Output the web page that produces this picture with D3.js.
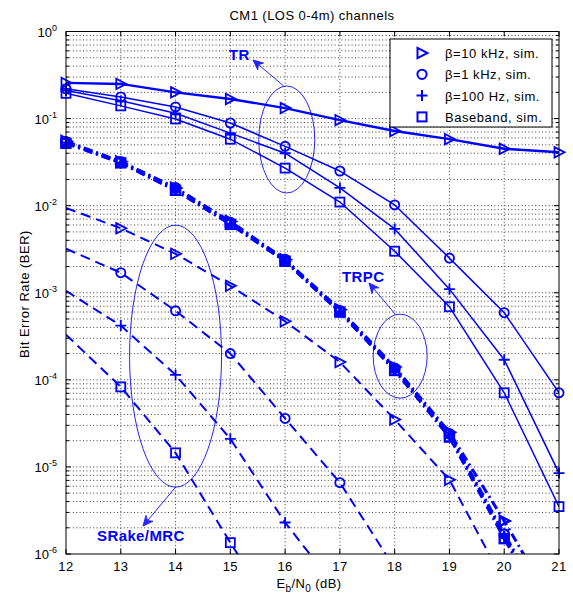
<!DOCTYPE html>
<html><head><meta charset="utf-8">
<script src="https://cdn.jsdelivr.net/npm/d3@7"></script>
<style>body{margin:0;background:#fff}svg{display:block;font-family:"Liberation Sans",Arial,sans-serif}</style>
</head><body><svg id="c" width="573" height="598"></svg>
<script>
// ---------- data ----------
const ebn0 = [12, 13, 14, 15, 16, 17, 18, 19, 20, 21];
const seriesNames = ["β=10 kHz, sim.", "β=1 kHz, sim.", "β=100 Hz, sim.", "Baseband, sim."];
const markerTypes = ["tri", "circle", "plus", "square"];
// TR (solid)
const tr10k  = [0.257, 0.25, 0.20, 0.168, 0.132, 0.096, 0.072, 0.058, 0.045, 0.041];
const tr1k   = [0.22, 0.177, 0.136, 0.089, 0.048, 0.025, 0.0102, 0.0025, 0.00059, 7.1e-5];
const tr100  = [0.21, 0.16, 0.115, 0.068, 0.040, 0.016, 0.0054, 0.0011, 0.00017, 8.5e-6];
const trBase = [0.195, 0.14, 0.099, 0.058, 0.027, 0.011, 0.0030, 0.00069, 7.1e-5, 3.5e-6];
// TRPC (dash-dot)
const trpc10k  = [0.055, 0.032, 0.016, 0.0066, 0.0024, 0.00064, 0.000140, 2.5e-5, 2.4e-6, 2.0e-7];
const trpc1k   = [0.054, 0.032, 0.016, 0.0064, 0.0024, 0.00062, 0.000136, 2.4e-5, 1.7e-6, 1.4e-7];
const trpc100  = [0.053, 0.031, 0.015, 0.0062, 0.0023, 0.00060, 0.000132, 2.3e-5, 1.6e-6, 1.3e-7];
const trpcBase = [0.052, 0.031, 0.015, 0.0061, 0.0023, 0.00060, 0.000128, 2.2e-5, 1.5e-6, 1.2e-7];
// SRake/MRC (dashed); first value is where the curve enters the axes at 12 dB (no marker there)
const sr10k  = [0.0094, 0.0055, 0.0028, 0.0012, 0.00047, 0.00016, 3.5e-5, 7.1e-6, 4.7e-7, null];
const sr1k   = [0.0032, 0.0017, 0.00062, 0.00020, 3.6e-5, 6.6e-6, 6.9e-7, null, null, null];
const sr100  = [0.00105, 0.00042, 0.000114, 2.1e-5, 2.3e-6, 3.6e-7, null, null, null, null];
const srBase = [0.00033, 8.3e-5, 1.45e-5, 1.35e-6, 1.4e-7, null, null, null, null, null];

const xTicks = [12, 13, 14, 15, 16, 17, 18, 19, 20, 21];
const yTickExps = [0, -1, -2, -3, -4, -5, -6];

// ---------- layout ----------
const svg = d3.select("#c");
const L = 66, R = 559, T = 31.5, B = 554;
const blue = "#0000ff";
const x = d3.scaleLinear().domain([12, 21]).range([L, R]);
const y = d3.scaleLog().domain([1e-6, 1]).range([B, T]);

svg.append("defs").append("clipPath").attr("id", "pc")
  .append("rect").attr("x", L).attr("y", T).attr("width", R - L).attr("height", B - T);

// grid
const grid = svg.append("g").attr("stroke", "#111").attr("stroke-width", 1)
  .attr("stroke-dasharray", "1,2.4").attr("opacity", 0.8);
xTicks.slice(1, -1).forEach(t => grid.append("line")
  .attr("x1", x(t)).attr("x2", x(t)).attr("y1", T).attr("y2", B));
const yMinor = [];
for (let e = -6; e < 0; e++) for (let m = 1; m <= 9; m++) yMinor.push({v: m * Math.pow(10, e), major: m === 1});
yMinor.forEach(d => { if (d.v > 1e-6) grid.append("line")
  .attr("x1", L).attr("x2", R).attr("y1", y(d.v)).attr("y2", y(d.v)); });

// ticks (inside)
const tk = svg.append("g").attr("stroke", "#000").attr("stroke-width", 1);
xTicks.forEach(t => {
  tk.append("line").attr("x1", x(t)).attr("x2", x(t)).attr("y1", B).attr("y2", B - 5);
  tk.append("line").attr("x1", x(t)).attr("x2", x(t)).attr("y1", T).attr("y2", T + 5);
});
yMinor.concat([{v: 1, major: true}]).forEach(d => {
  const len = d.major ? 5 : 3;
  tk.append("line").attr("x1", L).attr("x2", L + len).attr("y1", y(d.v)).attr("y2", y(d.v));
  tk.append("line").attr("x1", R).attr("x2", R - len).attr("y1", y(d.v)).attr("y2", y(d.v));
});

// marker shapes
function marker(g, type, cx, cy, sw) {
  const s = g.append("g").attr("transform", `translate(${cx},${cy})`)
    .attr("fill", "none").attr("stroke", blue).attr("stroke-width", sw || 1.8);
  if (type === "tri") s.append("path").attr("d", "M-4.5,-5.2L5.5,0L-4.5,5.2Z");
  else if (type === "circle") s.append("circle").attr("r", 4.6);
  else if (type === "plus") s.append("path").attr("d", "M-5.5,0H5.5M0,-5.5V5.5");
  else s.append("rect").attr("x", -4.5).attr("y", -4.5).attr("width", 9).attr("height", 9);
}

const groups = [
  {vals: [tr10k, tr1k, tr100, trBase], dash: null, widths: [2.4, 1.5, 1.5, 1.5], markFrom: 12},
  {vals: [trpc10k, trpc1k, trpc100, trpcBase], dash: "9,4,2,4", widths: [3, 3, 3, 3], markFrom: 12},
  {vals: [sr10k, sr1k, sr100, srBase], dash: "10,6", widths: [2, 2, 2, 2], markFrom: 13}
];
const lineGen = d3.line().defined(d => d[1] != null).x(d => x(d[0])).y(d => y(d[1]));
const plotG = svg.append("g");
groups.forEach(gr => {
  gr.vals.forEach((vals, i) => {
    const pts = ebn0.map((e, k) => [e, vals[k]]);
    plotG.append("path").attr("d", lineGen(pts)).attr("clip-path", "url(#pc)")
      .attr("fill", "none").attr("stroke", blue).attr("stroke-width", gr.widths[i])
      .attr("stroke-dasharray", gr.dash).attr("stroke-linejoin", "round");
    pts.forEach(p => {
      if (p[1] != null && p[1] >= 1e-6 && p[0] >= gr.markFrom)
        marker(plotG, markerTypes[i], x(p[0]), y(p[1]), gr.widths[i] > 2.5 ? 2.4 : 1.8);
    });
  });
});

// axes box
svg.append("rect").attr("x", L).attr("y", T).attr("width", R - L).attr("height", B - T)
  .attr("fill", "none").attr("stroke", "#000").attr("stroke-width", 1);

// tick labels
const fs = 13, ls = "0.4px";
xTicks.forEach(t => svg.append("text").attr("x", x(t)).attr("y", B + 17)
  .attr("text-anchor", "middle").attr("font-size", fs).attr("letter-spacing", ls).attr("fill", "#000").text(t));
yTickExps.forEach(e => {
  const tx = svg.append("text").attr("x", 57).attr("y", y(Math.pow(10, e)) + 5)
    .attr("text-anchor", "end").attr("font-size", fs).attr("fill", "#000");
  tx.append("tspan").text("10");
  tx.append("tspan").attr("dy", -6).attr("font-size", 9).text(e);
});

// title and labels
svg.append("text").attr("x", 312).attr("y", 20).attr("text-anchor", "middle")
  .attr("font-size", fs).attr("letter-spacing", "0.45px").text("CM1 (LOS 0-4m) channels");
const xl = svg.append("text").attr("x", 309).attr("y", 588).attr("text-anchor", "middle")
  .attr("font-size", fs).attr("letter-spacing", ls);
xl.append("tspan").text("E");
xl.append("tspan").attr("dy", 3.5).attr("font-size", 10).text("b");
xl.append("tspan").attr("dy", -3.5).text("/N");
xl.append("tspan").attr("dy", 3.5).attr("font-size", 10).text("0");
xl.append("tspan").attr("dy", -3.5).text(" (dB)");
svg.append("text").attr("transform", "translate(29,294) rotate(-90)").attr("text-anchor", "middle")
  .attr("font-size", fs).attr("letter-spacing", "0.5px").text("Bit Error Rate (BER)");

// legend
const lg = svg.append("g");
lg.append("rect").attr("x", 390).attr("y", 39).attr("width", 162).attr("height", 88)
  .attr("fill", "#fff").attr("stroke", "#000").attr("stroke-width", 1);
seriesNames.forEach((n, i) => {
  const yy = 53 + i * 21.3;
  marker(lg, markerTypes[i], 422, yy, 2);
  lg.append("text").attr("x", 445).attr("y", yy + 5).attr("font-size", fs)
    .attr("letter-spacing", "0.55px").attr("fill", "#000").text(n);
});

// annotations (ellipses positioned in data units)
const ann = svg.append("g").attr("fill", "none").attr("stroke", blue).attr("stroke-width", 1).attr("opacity", 0.85);
const ellipses = [
  {cx: 16.03, cy: 0.0575, rx: 28, ry: 53.5},
  {cx: 18.1, cy: 1.87e-4, rx: 27, ry: 42},
  {cx: 14.0, cy: 1.87e-4, rx: 46, ry: 131}
];
ellipses.forEach(e => ann.append("ellipse").attr("cx", x(e.cx)).attr("cy", y(e.cy)).attr("rx", e.rx).attr("ry", e.ry));

function arrow(x1, y1, x2, y2) {
  ann.append("line").attr("x1", x1).attr("y1", y1).attr("x2", x2).attr("y2", y2);
  const a = Math.atan2(y2 - y1, x2 - x1), len = 10, w = 4.5;
  const bx = x2 - len * Math.cos(a), by = y2 - len * Math.sin(a);
  const mx = x2 - 0.7 * len * Math.cos(a), my = y2 - 0.7 * len * Math.sin(a);
  const px = -Math.sin(a) * w, py = Math.cos(a) * w;
  ann.append("path").attr("d", `M${x2},${y2}L${bx + px},${by + py}L${mx},${my}L${bx - px},${by - py}Z`)
    .attr("fill", blue).attr("stroke", blue);
}
const e0 = ellipses[0], e1 = ellipses[1], e2 = ellipses[2];
arrow(x(e0.cx) - 3, y(e0.cy) - e0.ry, 253, 60);
arrow(x(e1.cx) - 5, y(e1.cy) - e1.ry, 369, 283);
arrow(x(e2.cx), y(e2.cy) + e2.ry, 143, 526);

const at = svg.append("g").attr("fill", blue).attr("font-weight", "bold").attr("font-size", 15)
  .attr("letter-spacing", "0.4px");
at.append("text").attr("x", 229).attr("y", 60).text("TR");
at.append("text").attr("x", 342).attr("y", 282).text("TRPC");
at.append("text").attr("x", 97).attr("y", 541).text("SRake/MRC");
</script></body></html>
